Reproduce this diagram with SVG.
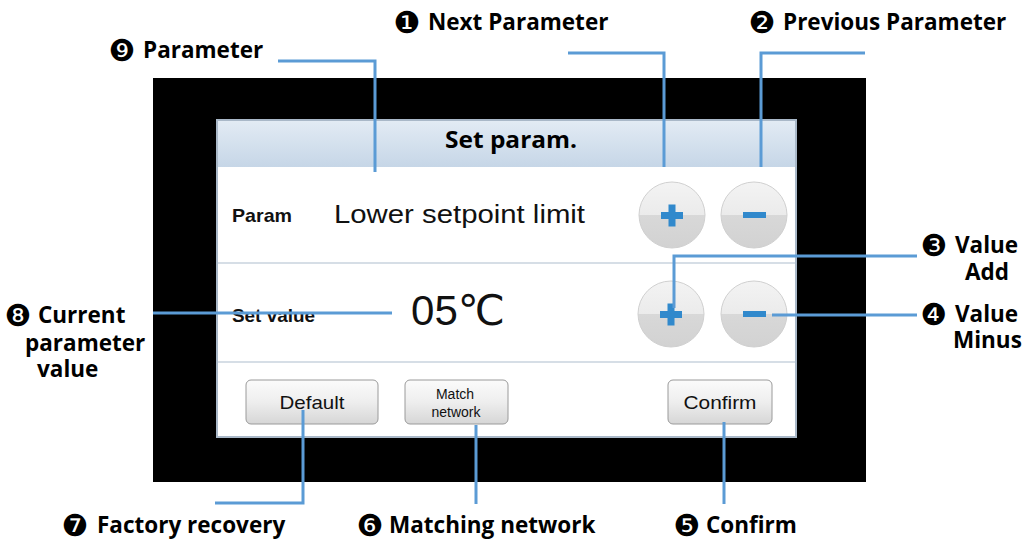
<svg xmlns="http://www.w3.org/2000/svg" width="1025" height="541" viewBox="0 0 1025 541">
<defs>
<linearGradient id="hdr" x1="0" y1="0" x2="0" y2="1"><stop offset="0" stop-color="#e2ebf4"/><stop offset="1" stop-color="#c6d6e7"/></linearGradient>
<linearGradient id="circ" x1="0" y1="0" x2="0" y2="1"><stop offset="0" stop-color="#f3f3f3"/><stop offset="0.5" stop-color="#ebebeb"/><stop offset="0.5" stop-color="#d8d8d8"/><stop offset="1" stop-color="#d2d2d2"/></linearGradient>
<linearGradient id="btn" x1="0" y1="0" x2="0" y2="1"><stop offset="0" stop-color="#fbfbfb"/><stop offset="0.5" stop-color="#eeeeee"/><stop offset="1" stop-color="#d6d6d6"/></linearGradient>
</defs>
<style>
.lbl{font-family:"Open Sans","DejaVu Sans",sans-serif;font-weight:bold;font-size:22.5px;fill:#000}
.num{font-family:"DejaVu Sans",sans-serif;font-size:30px;fill:#000;text-anchor:middle}
.ui{font-family:"Liberation Sans",Arial,sans-serif;fill:#111}
.uib{font-family:"Liberation Sans",Arial,sans-serif;font-weight:bold;fill:#111}
.circle{fill:url(#circ);stroke:#d0d0d0;stroke-width:1}
.btn{fill:url(#btn);stroke:#9a9a9a;stroke-width:1}
.sep{stroke:#c9d3de;stroke-width:1.5}
.conn{fill:none;stroke:#5b9bd5;stroke-width:3}
.sign{fill:#3189cc}
</style>
<rect width="1025" height="541" fill="#ffffff"/>
<g id="frame">
<rect x="153" y="78" width="713" height="404" fill="#000"/>
<rect x="217" y="120" width="579" height="317" fill="#fff" stroke="#a9b8c8" stroke-width="2"/>
</g>
<g id="header">
<rect x="218" y="121" width="577" height="46" fill="url(#hdr)"/>
<text x="511" y="148" text-anchor="middle" class="lbl" font-size="23" textLength="132" lengthAdjust="spacingAndGlyphs" fill="#111">Set param.</text>
</g>
<g id="separators">
<line x1="218" y1="263" x2="795" y2="263" class="sep"/>
<line x1="218" y1="362" x2="795" y2="362" class="sep"/>
</g>
<g id="row-param">
<text x="232" y="222" class="uib" font-size="19" textLength="60" lengthAdjust="spacingAndGlyphs">Param</text>
<text x="334" y="223" class="ui" font-size="25" textLength="251" lengthAdjust="spacingAndGlyphs">Lower setpoint limit</text>
</g>
<g id="btn-next-param">
<circle cx="672" cy="215" r="33" class="circle"/>
<rect x="661" y="212" width="22" height="7" class="sign"/>
<rect x="668.5" y="204.5" width="7" height="22" class="sign"/>
</g>
<g id="btn-prev-param">
<circle cx="754" cy="215" r="33" class="circle"/>
<rect x="743" y="212" width="23" height="6" class="sign"/>
</g>
<g id="row-value">
<text x="232" y="322" class="uib" font-size="19" textLength="83" lengthAdjust="spacingAndGlyphs">Set value</text>
<text x="411" y="325" class="ui" font-size="42" textLength="94" lengthAdjust="spacingAndGlyphs">05<tspan font-family="'DejaVu Sans',sans-serif">℃</tspan></text>
</g>
<g id="btn-value-add">
<circle cx="671" cy="314" r="33" class="circle"/>
<rect x="660" y="311" width="22" height="7" class="sign"/>
<rect x="667.5" y="303.5" width="7" height="22" class="sign"/>
</g>
<g id="btn-value-minus">
<circle cx="754" cy="314" r="33" class="circle"/>
<rect x="743" y="311" width="23" height="6" class="sign"/>
</g>
<g id="btn-default">
<rect x="246" y="380" width="132" height="44" rx="5" class="btn"/>
<text x="312" y="409" text-anchor="middle" class="ui" font-size="19" textLength="65" lengthAdjust="spacingAndGlyphs">Default</text>
</g>
<g id="btn-match">
<rect x="405" y="380" width="103" height="44" rx="5" class="btn"/>
<text x="455" y="399" text-anchor="middle" class="ui" font-size="14">Match</text>
<text x="456" y="417" text-anchor="middle" class="ui" font-size="14">network</text>
</g>
<g id="btn-confirm">
<rect x="668" y="380" width="104" height="44" rx="5" class="btn"/>
<text x="720" y="409" text-anchor="middle" class="ui" font-size="19" textLength="73" lengthAdjust="spacingAndGlyphs">Confirm</text>
</g>
<g id="connectors">
<path class="conn" d="M278 61H375V172"/>
<path class="conn" d="M568 53H664V167"/>
<path class="conn" d="M865 53H761V167"/>
<path class="conn" d="M917 256H674V308"/>
<path class="conn" d="M917 315H772"/>
<path class="conn" d="M153 313H392"/>
<path class="conn" d="M215 503H303V410"/>
<path class="conn" d="M476 425V504"/>
<path class="conn" d="M724 422V504"/>
</g>
<g id="label-9-parameter">
<text x="122" y="61" class="num">❾</text>
<text x="143" y="58" class="lbl">Parameter</text>
</g>
<g id="label-1-next">
<text x="407" y="33" class="num">❶</text>
<text x="428" y="30" class="lbl">Next Parameter</text>
</g>
<g id="label-2-prev">
<text x="762" y="33" class="num">❷</text>
<text x="783" y="30" class="lbl">Previous Parameter</text>
</g>
<g id="label-3-add">
<text x="934" y="256" class="num">❸</text>
<text x="955" y="253" class="lbl">Value</text>
<text x="965" y="280" class="lbl">Add</text>
</g>
<g id="label-4-minus">
<text x="934" y="325" class="num">❹</text>
<text x="955" y="322" class="lbl">Value</text>
<text x="953" y="348" class="lbl">Minus</text>
</g>
<g id="label-8-current">
<text x="18" y="326" class="num">❽</text>
<text x="38" y="323" class="lbl">Current</text>
<text x="25" y="351" class="lbl">parameter</text>
<text x="37" y="377" class="lbl">value</text>
</g>
<g id="label-7-factory">
<text x="75" y="536" class="num">❼</text>
<text x="97" y="533" class="lbl">Factory recovery</text>
</g>
<g id="label-6-matching">
<text x="370" y="536" class="num">❻</text>
<text x="389" y="533" class="lbl">Matching network</text>
</g>
<g id="label-5-confirm">
<text x="687" y="536" class="num">❺</text>
<text x="706" y="533" class="lbl">Confirm</text>
</g>
</svg>
